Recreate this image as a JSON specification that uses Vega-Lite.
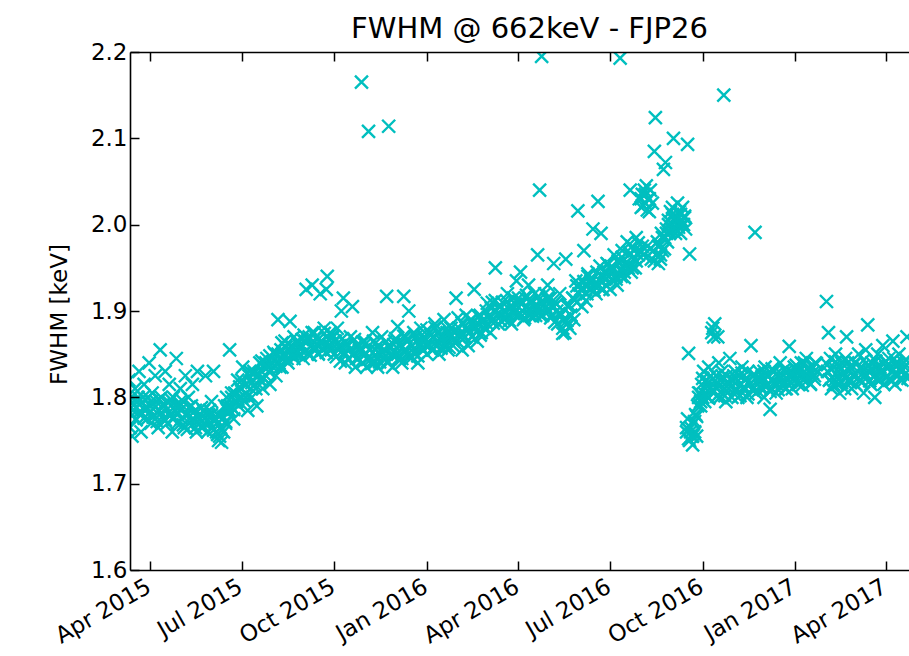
{
  "$schema": "https://vega.github.io/schema/vega-lite/v6.json",
  "width": 779,
  "height": 518,
  "autosize": {"type": "none"},
  "padding": {"left": 130, "top": 52, "right": 0, "bottom": 86},
  "background": "white",
  "config": {"view": {"stroke": null}, "font": "DejaVu Sans"},
  "title": {"text": "FWHM @ 662keV - FJP26", "fontSize": 29, "fontWeight": "normal", "color": "black", "anchor": "middle", "frame": "group", "baseline": "alphabetic", "offset": 12, "dx": 10, "dy": 38},
  "datasets": {
    "fwhm": [
{"t":"2015-03-11","v":1.79},{"t":"2015-03-11","v":1.82},{"t":"2015-03-12","v":1.765},{"t":"2015-03-13","v":1.80},{"t":"2015-03-14","v":1.755},{"t":"2015-03-15","v":1.785},{"t":"2015-03-17","v":1.81},{"t":"2015-03-18","v":1.775},{"t":"2015-03-19","v":1.795},{"t":"2015-03-21","v":1.83},{"t":"2015-03-22","v":1.78},{"t":"2015-03-23","v":1.76},{"t":"2015-03-25","v":1.80},{"t":"2015-03-26","v":1.815},{"t":"2015-03-27","v":1.785},{"t":"2015-03-29","v":1.775},{"t":"2015-03-30","v":1.80},{"t":"2015-03-31","v":1.84},
{"t":"2015-04-01","v":1.79},{"t":"2015-04-02","v":1.77},{"t":"2015-04-03","v":1.805},{"t":"2015-04-05","v":1.78},{"t":"2015-04-06","v":1.825},{"t":"2015-04-07","v":1.795},{"t":"2015-04-09","v":1.765},{"t":"2015-04-10","v":1.785},{"t":"2015-04-11","v":1.855},{"t":"2015-04-12","v":1.80},{"t":"2015-04-14","v":1.775},{"t":"2015-04-15","v":1.79},{"t":"2015-04-16","v":1.83},{"t":"2015-04-18","v":1.77},{"t":"2015-04-19","v":1.795},{"t":"2015-04-20","v":1.815},{"t":"2015-04-22","v":1.78},{"t":"2015-04-23","v":1.76},{"t":"2015-04-24","v":1.80},{"t":"2015-04-26","v":1.785},{"t":"2015-04-27","v":1.845},{"t":"2015-04-28","v":1.77},{"t":"2015-04-30","v":1.79},
{"t":"2015-05-01","v":1.81},{"t":"2015-05-02","v":1.775},{"t":"2015-05-04","v":1.795},{"t":"2015-05-05","v":1.765},{"t":"2015-05-06","v":1.825},{"t":"2015-05-08","v":1.78},{"t":"2015-05-09","v":1.80},{"t":"2015-05-10","v":1.77},{"t":"2015-05-12","v":1.79},{"t":"2015-05-13","v":1.815},{"t":"2015-05-14","v":1.775},{"t":"2015-05-16","v":1.785},{"t":"2015-05-17","v":1.76},{"t":"2015-05-18","v":1.83},{"t":"2015-05-20","v":1.775},{"t":"2015-05-21","v":1.78},{"t":"2015-05-22","v":1.765},{"t":"2015-05-24","v":1.785},{"t":"2015-05-25","v":1.77},{"t":"2015-05-26","v":1.825},{"t":"2015-05-28","v":1.76},{"t":"2015-05-29","v":1.78},{"t":"2015-05-30","v":1.77},
{"t":"2015-06-01","v":1.795},{"t":"2015-06-02","v":1.765},{"t":"2015-06-03","v":1.83},{"t":"2015-06-05","v":1.775},{"t":"2015-06-06","v":1.76},{"t":"2015-06-07","v":1.78},{"t":"2015-06-08","v":1.75},{"t":"2015-06-09","v":1.755},{"t":"2015-06-10","v":1.765},{"t":"2015-06-11","v":1.748},{"t":"2015-06-12","v":1.775},{"t":"2015-06-13","v":1.76},{"t":"2015-06-14","v":1.79},{"t":"2015-06-15","v":1.77},{"t":"2015-06-16","v":1.80},{"t":"2015-06-17","v":1.785},{"t":"2015-06-19","v":1.855},{"t":"2015-06-20","v":1.79},{"t":"2015-06-21","v":1.80},{"t":"2015-06-23","v":1.775},{"t":"2015-06-24","v":1.805},{"t":"2015-06-26","v":1.795},{"t":"2015-06-27","v":1.82},{"t":"2015-06-28","v":1.79},{"t":"2015-06-30","v":1.81},
{"t":"2015-07-01","v":1.80},{"t":"2015-07-02","v":1.835},{"t":"2015-07-04","v":1.795},{"t":"2015-07-05","v":1.815},{"t":"2015-07-07","v":1.785},{"t":"2015-07-08","v":1.825},{"t":"2015-07-10","v":1.81},{"t":"2015-07-11","v":1.80},{"t":"2015-07-13","v":1.83},{"t":"2015-07-14","v":1.815},{"t":"2015-07-16","v":1.79},{"t":"2015-07-17","v":1.825},{"t":"2015-07-19","v":1.84},{"t":"2015-07-20","v":1.82},{"t":"2015-07-22","v":1.81},{"t":"2015-07-23","v":1.835},{"t":"2015-07-25","v":1.825},{"t":"2015-07-26","v":1.845},{"t":"2015-07-28","v":1.83},{"t":"2015-07-29","v":1.815},{"t":"2015-07-31","v":1.84},
{"t":"2015-08-01","v":1.835},{"t":"2015-08-03","v":1.85},{"t":"2015-08-04","v":1.825},{"t":"2015-08-06","v":1.89},{"t":"2015-08-07","v":1.84},{"t":"2015-08-09","v":1.855},{"t":"2015-08-10","v":1.835},{"t":"2015-08-12","v":1.85},{"t":"2015-08-13","v":1.865},{"t":"2015-08-15","v":1.845},{"t":"2015-08-16","v":1.855},{"t":"2015-08-18","v":1.888},{"t":"2015-08-19","v":1.86},{"t":"2015-08-21","v":1.85},{"t":"2015-08-22","v":1.845},{"t":"2015-08-24","v":1.855},{"t":"2015-08-25","v":1.865},{"t":"2015-08-27","v":1.86},{"t":"2015-08-28","v":1.85},{"t":"2015-08-30","v":1.86},{"t":"2015-08-31","v":1.845},
{"t":"2015-09-02","v":1.865},{"t":"2015-09-03","v":1.925},{"t":"2015-09-05","v":1.85},{"t":"2015-09-06","v":1.87},{"t":"2015-09-08","v":1.86},{"t":"2015-09-09","v":1.93},{"t":"2015-09-11","v":1.875},{"t":"2015-09-12","v":1.855},{"t":"2015-09-14","v":1.86},{"t":"2015-09-15","v":1.85},{"t":"2015-09-17","v":1.92},{"t":"2015-09-18","v":1.865},{"t":"2015-09-20","v":1.855},{"t":"2015-09-21","v":1.88},{"t":"2015-09-23","v":1.925},{"t":"2015-09-24","v":1.94},{"t":"2015-09-25","v":1.86},{"t":"2015-09-27","v":1.875},{"t":"2015-09-28","v":1.855},{"t":"2015-09-30","v":1.87},
{"t":"2015-10-01","v":1.85},{"t":"2015-10-02","v":1.865},{"t":"2015-10-04","v":1.88},{"t":"2015-10-05","v":1.855},{"t":"2015-10-07","v":1.86},{"t":"2015-10-08","v":1.90},{"t":"2015-10-10","v":1.915},{"t":"2015-10-11","v":1.85},{"t":"2015-10-12","v":1.84},{"t":"2015-10-14","v":1.86},{"t":"2015-10-15","v":1.845},{"t":"2015-10-17","v":1.87},{"t":"2015-10-19","v":1.905},{"t":"2015-10-20","v":1.85},{"t":"2015-10-22","v":1.835},{"t":"2015-10-23","v":1.86},{"t":"2015-10-25","v":1.845},{"t":"2015-10-26","v":1.855},{"t":"2015-10-28","v":2.165},{"t":"2015-10-29","v":1.84},{"t":"2015-10-31","v":1.865},
{"t":"2015-11-01","v":1.85},{"t":"2015-11-02","v":1.835},{"t":"2015-11-04","v":2.108},{"t":"2015-11-05","v":1.855},{"t":"2015-11-07","v":1.845},{"t":"2015-11-08","v":1.875},{"t":"2015-11-10","v":1.84},{"t":"2015-11-11","v":1.855},{"t":"2015-11-13","v":1.835},{"t":"2015-11-14","v":1.86},{"t":"2015-11-16","v":1.85},{"t":"2015-11-17","v":1.87},{"t":"2015-11-19","v":1.845},{"t":"2015-11-20","v":1.855},{"t":"2015-11-22","v":1.917},{"t":"2015-11-23","v":1.84},{"t":"2015-11-24","v":2.114},{"t":"2015-11-25","v":1.86},{"t":"2015-11-27","v":1.85},{"t":"2015-11-28","v":1.835},{"t":"2015-11-30","v":1.865},
{"t":"2015-12-01","v":1.85},{"t":"2015-12-03","v":1.882},{"t":"2015-12-04","v":1.845},{"t":"2015-12-06","v":1.86},{"t":"2015-12-07","v":1.84},{"t":"2015-12-09","v":1.917},{"t":"2015-12-10","v":1.855},{"t":"2015-12-11","v":1.87},{"t":"2015-12-13","v":1.85},{"t":"2015-12-14","v":1.90},{"t":"2015-12-16","v":1.845},{"t":"2015-12-17","v":1.86},{"t":"2015-12-19","v":1.875},{"t":"2015-12-20","v":1.85},{"t":"2015-12-22","v":1.865},{"t":"2015-12-23","v":1.84},{"t":"2015-12-25","v":1.86},{"t":"2015-12-26","v":1.88},{"t":"2015-12-28","v":1.855},{"t":"2015-12-29","v":1.87},{"t":"2015-12-31","v":1.86},
{"t":"2016-01-01","v":1.85},{"t":"2016-01-03","v":1.86},{"t":"2016-01-04","v":1.875},{"t":"2016-01-06","v":1.855},{"t":"2016-01-07","v":1.87},{"t":"2016-01-09","v":1.885},{"t":"2016-01-10","v":1.86},{"t":"2016-01-12","v":1.875},{"t":"2016-01-13","v":1.85},{"t":"2016-01-15","v":1.87},{"t":"2016-01-16","v":1.865},{"t":"2016-01-18","v":1.89},{"t":"2016-01-19","v":1.86},{"t":"2016-01-21","v":1.875},{"t":"2016-01-22","v":1.855},{"t":"2016-01-24","v":1.87},{"t":"2016-01-25","v":1.88},{"t":"2016-01-27","v":1.86},{"t":"2016-01-28","v":1.875},{"t":"2016-01-30","v":1.915},{"t":"2016-01-31","v":1.865},
{"t":"2016-02-02","v":1.88},{"t":"2016-02-03","v":1.87},{"t":"2016-02-05","v":1.855},{"t":"2016-02-06","v":1.885},{"t":"2016-02-08","v":1.87},{"t":"2016-02-09","v":1.88},{"t":"2016-02-11","v":1.86},{"t":"2016-02-12","v":1.875},{"t":"2016-02-14","v":1.89},{"t":"2016-02-15","v":1.87},{"t":"2016-02-17","v":1.925},{"t":"2016-02-18","v":1.88},{"t":"2016-02-20","v":1.865},{"t":"2016-02-21","v":1.885},{"t":"2016-02-23","v":1.895},{"t":"2016-02-24","v":1.875},{"t":"2016-02-26","v":1.89},{"t":"2016-02-27","v":1.88},{"t":"2016-02-29","v":1.90},
{"t":"2016-03-01","v":1.885},{"t":"2016-03-03","v":1.895},{"t":"2016-03-04","v":1.875},{"t":"2016-03-06","v":1.91},{"t":"2016-03-07","v":1.89},{"t":"2016-03-09","v":1.95},{"t":"2016-03-10","v":1.90},{"t":"2016-03-12","v":1.885},{"t":"2016-03-13","v":1.905},{"t":"2016-03-15","v":1.895},{"t":"2016-03-16","v":1.91},{"t":"2016-03-18","v":1.89},{"t":"2016-03-19","v":1.90},{"t":"2016-03-21","v":1.92},{"t":"2016-03-22","v":1.895},{"t":"2016-03-24","v":1.905},{"t":"2016-03-25","v":1.885},{"t":"2016-03-27","v":1.915},{"t":"2016-03-28","v":1.90},{"t":"2016-03-30","v":1.935},{"t":"2016-03-31","v":1.895},
{"t":"2016-04-02","v":1.91},{"t":"2016-04-03","v":1.945},{"t":"2016-04-05","v":1.90},{"t":"2016-04-06","v":1.89},{"t":"2016-04-08","v":1.915},{"t":"2016-04-09","v":1.905},{"t":"2016-04-11","v":1.93},{"t":"2016-04-12","v":1.895},{"t":"2016-04-14","v":1.91},{"t":"2016-04-15","v":1.90},{"t":"2016-04-17","v":1.92},{"t":"2016-04-18","v":1.895},{"t":"2016-04-20","v":1.965},{"t":"2016-04-21","v":1.905},{"t":"2016-04-22","v":2.04},{"t":"2016-04-23","v":1.91},{"t":"2016-04-24","v":2.195},{"t":"2016-04-25","v":1.895},{"t":"2016-04-27","v":1.92},{"t":"2016-04-28","v":1.905},{"t":"2016-04-30","v":1.93},
{"t":"2016-05-01","v":1.90},{"t":"2016-05-03","v":1.915},{"t":"2016-05-04","v":1.895},{"t":"2016-05-06","v":1.955},{"t":"2016-05-07","v":1.91},{"t":"2016-05-09","v":1.90},{"t":"2016-05-10","v":1.885},{"t":"2016-05-12","v":1.92},{"t":"2016-05-13","v":1.895},{"t":"2016-05-15","v":1.88},{"t":"2016-05-16","v":1.89},{"t":"2016-05-17","v":1.875},{"t":"2016-05-18","v":1.96},{"t":"2016-05-19","v":1.885},{"t":"2016-05-20","v":1.905},{"t":"2016-05-22","v":1.88},{"t":"2016-05-23","v":1.895},{"t":"2016-05-25","v":1.915},{"t":"2016-05-26","v":1.89},{"t":"2016-05-28","v":1.935},{"t":"2016-05-29","v":1.91},{"t":"2016-05-30","v":2.016},{"t":"2016-05-31","v":1.92},
{"t":"2016-06-02","v":1.925},{"t":"2016-06-03","v":1.905},{"t":"2016-06-05","v":1.97},{"t":"2016-06-06","v":1.93},{"t":"2016-06-08","v":1.92},{"t":"2016-06-09","v":1.94},{"t":"2016-06-11","v":1.925},{"t":"2016-06-12","v":1.935},{"t":"2016-06-14","v":1.995},{"t":"2016-06-15","v":1.93},{"t":"2016-06-17","v":1.92},{"t":"2016-06-18","v":1.945},{"t":"2016-06-19","v":2.027},{"t":"2016-06-20","v":1.93},{"t":"2016-06-21","v":1.935},{"t":"2016-06-22","v":1.99},{"t":"2016-06-23","v":1.94},{"t":"2016-06-24","v":1.925},{"t":"2016-06-26","v":1.945},{"t":"2016-06-27","v":1.93},{"t":"2016-06-28","v":1.955},{"t":"2016-06-30","v":1.94},
{"t":"2016-07-01","v":1.925},{"t":"2016-07-03","v":1.95},{"t":"2016-07-04","v":1.935},{"t":"2016-07-05","v":1.965},{"t":"2016-07-07","v":1.94},{"t":"2016-07-08","v":1.93},{"t":"2016-07-10","v":1.955},{"t":"2016-07-11","v":2.193},{"t":"2016-07-12","v":1.94},{"t":"2016-07-13","v":1.97},{"t":"2016-07-15","v":1.945},{"t":"2016-07-16","v":1.955},{"t":"2016-07-18","v":1.98},{"t":"2016-07-19","v":1.95},{"t":"2016-07-20","v":1.965},{"t":"2016-07-21","v":2.04},{"t":"2016-07-22","v":1.945},{"t":"2016-07-23","v":1.975},{"t":"2016-07-25","v":1.96},{"t":"2016-07-26","v":1.95},{"t":"2016-07-27","v":1.985},{"t":"2016-07-29","v":1.965},{"t":"2016-07-30","v":2.03},{"t":"2016-07-31","v":1.97},
{"t":"2016-08-01","v":2.02},{"t":"2016-08-02","v":2.035},{"t":"2016-08-03","v":1.965},{"t":"2016-08-04","v":2.04},{"t":"2016-08-05","v":2.025},{"t":"2016-08-06","v":2.045},{"t":"2016-08-07","v":1.975},{"t":"2016-08-08","v":2.03},{"t":"2016-08-09","v":2.015},{"t":"2016-08-10","v":2.04},{"t":"2016-08-11","v":1.96},{"t":"2016-08-12","v":2.025},{"t":"2016-08-13","v":1.97},{"t":"2016-08-14","v":2.085},{"t":"2016-08-15","v":2.124},{"t":"2016-08-16","v":1.965},{"t":"2016-08-17","v":1.98},{"t":"2016-08-18","v":1.955},{"t":"2016-08-19","v":1.975},{"t":"2016-08-20","v":1.96},{"t":"2016-08-21","v":1.99},{"t":"2016-08-22","v":1.97},{"t":"2016-08-23","v":2.064},{"t":"2016-08-24","v":1.985},{"t":"2016-08-25","v":2.072},{"t":"2016-08-26","v":1.995},{"t":"2016-08-27","v":1.98},{"t":"2016-08-28","v":2.005},{"t":"2016-08-29","v":1.99},{"t":"2016-08-30","v":2.015},{"t":"2016-08-31","v":1.995},
{"t":"2016-09-01","v":2.02},{"t":"2016-09-02","v":2.10},{"t":"2016-09-03","v":2.005},{"t":"2016-09-04","v":1.99},{"t":"2016-09-05","v":2.01},{"t":"2016-09-06","v":2.025},{"t":"2016-09-07","v":2.0},{"t":"2016-09-08","v":2.015},{"t":"2016-09-09","v":1.99},{"t":"2016-09-10","v":2.005},{"t":"2016-09-11","v":2.02},{"t":"2016-09-12","v":2.0},{"t":"2016-09-13","v":2.01},{"t":"2016-09-14","v":1.995},{"t":"2016-09-16","v":2.093},{"t":"2016-09-18","v":1.966},
{"t":"2016-09-17","v":1.851},{"t":"2016-09-15","v":1.76},{"t":"2016-09-16","v":1.775},{"t":"2016-09-18","v":1.75},{"t":"2016-09-19","v":1.765},{"t":"2016-09-20","v":1.755},{"t":"2016-09-21","v":1.745},{"t":"2016-09-22","v":1.77},{"t":"2016-09-23","v":1.76},{"t":"2016-09-24","v":1.78},{"t":"2016-09-25","v":1.755},{"t":"2016-09-26","v":1.79},{"t":"2016-09-27","v":1.80},{"t":"2016-09-28","v":1.805},{"t":"2016-09-29","v":1.79},{"t":"2016-09-30","v":1.815},
{"t":"2016-10-01","v":1.80},{"t":"2016-10-02","v":1.83},{"t":"2016-10-03","v":1.795},{"t":"2016-10-04","v":1.81},{"t":"2016-10-05","v":1.82},{"t":"2016-10-06","v":1.80},{"t":"2016-10-07","v":1.835},{"t":"2016-10-08","v":1.81},{"t":"2016-10-10","v":1.875},{"t":"2016-10-11","v":1.88},{"t":"2016-10-12","v":1.87},{"t":"2016-10-13","v":1.885},{"t":"2016-10-14","v":1.825},{"t":"2016-10-15","v":1.81},{"t":"2016-10-16","v":1.87},{"t":"2016-10-17","v":1.84},{"t":"2016-10-18","v":1.80},{"t":"2016-10-19","v":1.82},{"t":"2016-10-20","v":1.83},{"t":"2016-10-22","v":2.15},{"t":"2016-10-23","v":1.81},{"t":"2016-10-24","v":1.795},{"t":"2016-10-25","v":1.825},{"t":"2016-10-27","v":1.815},{"t":"2016-10-28","v":1.845},{"t":"2016-10-30","v":1.80},{"t":"2016-10-31","v":1.82},
{"t":"2016-11-02","v":1.83},{"t":"2016-11-03","v":1.81},{"t":"2016-11-05","v":1.80},{"t":"2016-11-06","v":1.825},{"t":"2016-11-08","v":1.815},{"t":"2016-11-09","v":1.835},{"t":"2016-11-11","v":1.81},{"t":"2016-11-12","v":1.82},{"t":"2016-11-14","v":1.80},{"t":"2016-11-15","v":1.83},{"t":"2016-11-17","v":1.815},{"t":"2016-11-18","v":1.86},{"t":"2016-11-20","v":1.81},{"t":"2016-11-21","v":1.825},{"t":"2016-11-22","v":1.991},{"t":"2016-11-23","v":1.805},{"t":"2016-11-25","v":1.82},{"t":"2016-11-26","v":1.83},{"t":"2016-11-28","v":1.81},{"t":"2016-11-29","v":1.82},
{"t":"2016-12-01","v":1.80},{"t":"2016-12-02","v":1.835},{"t":"2016-12-04","v":1.815},{"t":"2016-12-05","v":1.825},{"t":"2016-12-07","v":1.786},{"t":"2016-12-08","v":1.81},{"t":"2016-12-10","v":1.82},{"t":"2016-12-11","v":1.83},{"t":"2016-12-13","v":1.805},{"t":"2016-12-14","v":1.815},{"t":"2016-12-16","v":1.825},{"t":"2016-12-17","v":1.84},{"t":"2016-12-19","v":1.815},{"t":"2016-12-20","v":1.825},{"t":"2016-12-22","v":1.81},{"t":"2016-12-23","v":1.83},{"t":"2016-12-25","v":1.82},{"t":"2016-12-26","v":1.859},{"t":"2016-12-28","v":1.825},{"t":"2016-12-29","v":1.81},{"t":"2016-12-31","v":1.835},
{"t":"2017-01-01","v":1.82},{"t":"2017-01-03","v":1.83},{"t":"2017-01-04","v":1.815},{"t":"2017-01-06","v":1.825},{"t":"2017-01-07","v":1.84},{"t":"2017-01-09","v":1.82},{"t":"2017-01-10","v":1.83},{"t":"2017-01-12","v":1.845},{"t":"2017-01-13","v":1.825},{"t":"2017-01-15","v":1.83},{"t":"2017-01-16","v":1.815},{"t":"2017-01-18","v":1.835},{"t":"2017-01-20","v":1.825},{"t":"2017-01-21","v":1.84},{"t":"2017-01-23","v":1.83},
{"t":"2017-02-01","v":1.911},{"t":"2017-02-02","v":1.83},{"t":"2017-02-03","v":1.875},{"t":"2017-02-04","v":1.82},{"t":"2017-02-05","v":1.845},{"t":"2017-02-06","v":1.81},{"t":"2017-02-08","v":1.835},{"t":"2017-02-09","v":1.82},{"t":"2017-02-10","v":1.85},{"t":"2017-02-12","v":1.815},{"t":"2017-02-13","v":1.83},{"t":"2017-02-14","v":1.805},{"t":"2017-02-16","v":1.84},{"t":"2017-02-17","v":1.825},{"t":"2017-02-19","v":1.81},{"t":"2017-02-20","v":1.845},{"t":"2017-02-21","v":1.87},{"t":"2017-02-23","v":1.82},{"t":"2017-02-24","v":1.835},{"t":"2017-02-26","v":1.81},{"t":"2017-02-27","v":1.825},
{"t":"2017-03-01","v":1.84},{"t":"2017-03-02","v":1.815},{"t":"2017-03-04","v":1.83},{"t":"2017-03-05","v":1.85},{"t":"2017-03-07","v":1.82},{"t":"2017-03-08","v":1.835},{"t":"2017-03-10","v":1.805},{"t":"2017-03-11","v":1.825},{"t":"2017-03-12","v":1.855},{"t":"2017-03-14","v":1.884},{"t":"2017-03-15","v":1.83},{"t":"2017-03-17","v":1.815},{"t":"2017-03-18","v":1.84},{"t":"2017-03-20","v":1.825},{"t":"2017-03-21","v":1.80},{"t":"2017-03-23","v":1.835},{"t":"2017-03-24","v":1.85},{"t":"2017-03-26","v":1.82},{"t":"2017-03-27","v":1.83},{"t":"2017-03-29","v":1.86},{"t":"2017-03-30","v":1.815},
{"t":"2017-04-01","v":1.835},{"t":"2017-04-02","v":1.825},{"t":"2017-04-04","v":1.845},{"t":"2017-04-05","v":1.82},{"t":"2017-04-07","v":1.83},{"t":"2017-04-08","v":1.865},{"t":"2017-04-10","v":1.815},{"t":"2017-04-11","v":1.84},{"t":"2017-04-13","v":1.825},{"t":"2017-04-14","v":1.85},{"t":"2017-04-16","v":1.83},{"t":"2017-04-17","v":1.82},{"t":"2017-04-19","v":1.84},{"t":"2017-04-20","v":1.835},{"t":"2017-04-22","v":1.87},{"t":"2017-04-23","v":1.825},
{"t":"2015-03-12","v":1.797},{"t":"2015-03-14","v":1.779},{"t":"2015-03-16","v":1.791},{"t":"2015-03-18","v":1.774},{"t":"2015-03-20","v":1.80},{"t":"2015-03-22","v":1.784},{"t":"2015-03-24","v":1.794},{"t":"2015-03-26","v":1.776},{"t":"2015-03-28","v":1.788},{"t":"2015-03-30","v":1.781},
{"t":"2015-04-02","v":1.795},{"t":"2015-04-04","v":1.777},{"t":"2015-04-06","v":1.789},{"t":"2015-04-08","v":1.772},{"t":"2015-04-10","v":1.798},{"t":"2015-04-12","v":1.782},{"t":"2015-04-14","v":1.792},{"t":"2015-04-16","v":1.774},{"t":"2015-04-18","v":1.786},{"t":"2015-04-20","v":1.779},{"t":"2015-04-22","v":1.797},{"t":"2015-04-24","v":1.775},{"t":"2015-04-26","v":1.79},{"t":"2015-04-28","v":1.783},{"t":"2015-04-30","v":1.794},
{"t":"2015-05-02","v":1.786},{"t":"2015-05-04","v":1.768},{"t":"2015-05-06","v":1.78},{"t":"2015-05-08","v":1.763},{"t":"2015-05-10","v":1.789},{"t":"2015-05-12","v":1.773},{"t":"2015-05-14","v":1.783},{"t":"2015-05-16","v":1.765},{"t":"2015-05-18","v":1.777},{"t":"2015-05-20","v":1.77},{"t":"2015-05-22","v":1.788},{"t":"2015-05-24","v":1.766},{"t":"2015-05-26","v":1.781},{"t":"2015-05-28","v":1.774},{"t":"2015-05-30","v":1.785},
{"t":"2015-06-01","v":1.78},{"t":"2015-06-03","v":1.762},{"t":"2015-06-05","v":1.774},{"t":"2015-06-07","v":1.757},{"t":"2015-06-09","v":1.778},{"t":"2015-06-11","v":1.762},{"t":"2015-06-13","v":1.777},{"t":"2015-06-15","v":1.772},{"t":"2015-06-17","v":1.79},{"t":"2015-06-19","v":1.785},{"t":"2015-06-21","v":1.805},{"t":"2015-06-23","v":1.786},{"t":"2015-06-25","v":1.804},{"t":"2015-06-27","v":1.798},{"t":"2015-06-29","v":1.812},
{"t":"2015-07-01","v":1.82},{"t":"2015-07-03","v":1.802},{"t":"2015-07-05","v":1.814},{"t":"2015-07-07","v":1.802},{"t":"2015-07-09","v":1.83},{"t":"2015-07-11","v":1.817},{"t":"2015-07-13","v":1.827},{"t":"2015-07-15","v":1.81},{"t":"2015-07-17","v":1.826},{"t":"2015-07-19","v":1.82},{"t":"2015-07-21","v":1.842},{"t":"2015-07-23","v":1.822},{"t":"2015-07-25","v":1.84},{"t":"2015-07-27","v":1.835},{"t":"2015-07-29","v":1.848},
{"t":"2015-08-02","v":1.852},{"t":"2015-08-04","v":1.836},{"t":"2015-08-06","v":1.85},{"t":"2015-08-08","v":1.835},{"t":"2015-08-10","v":1.863},{"t":"2015-08-12","v":1.847},{"t":"2015-08-14","v":1.858},{"t":"2015-08-16","v":1.84},{"t":"2015-08-18","v":1.853},{"t":"2015-08-20","v":1.848},{"t":"2015-08-22","v":1.87},{"t":"2015-08-24","v":1.85},{"t":"2015-08-26","v":1.863},{"t":"2015-08-28","v":1.856},{"t":"2015-08-30","v":1.867},
{"t":"2015-09-01","v":1.872},{"t":"2015-09-03","v":1.854},{"t":"2015-09-05","v":1.866},{"t":"2015-09-07","v":1.849},{"t":"2015-09-09","v":1.875},{"t":"2015-09-11","v":1.859},{"t":"2015-09-13","v":1.869},{"t":"2015-09-15","v":1.851},{"t":"2015-09-17","v":1.863},{"t":"2015-09-19","v":1.856},{"t":"2015-09-21","v":1.874},{"t":"2015-09-23","v":1.852},{"t":"2015-09-25","v":1.867},{"t":"2015-09-27","v":1.86},{"t":"2015-09-29","v":1.871},
{"t":"2015-10-01","v":1.865},{"t":"2015-10-03","v":1.847},{"t":"2015-10-05","v":1.859},{"t":"2015-10-07","v":1.842},{"t":"2015-10-09","v":1.868},{"t":"2015-10-11","v":1.852},{"t":"2015-10-13","v":1.862},{"t":"2015-10-15","v":1.844},{"t":"2015-10-17","v":1.856},{"t":"2015-10-19","v":1.849},{"t":"2015-10-21","v":1.867},{"t":"2015-10-23","v":1.845},{"t":"2015-10-25","v":1.86},{"t":"2015-10-27","v":1.853},{"t":"2015-10-29","v":1.864},
{"t":"2015-11-01","v":1.862},{"t":"2015-11-03","v":1.844},{"t":"2015-11-05","v":1.856},{"t":"2015-11-07","v":1.839},{"t":"2015-11-09","v":1.865},{"t":"2015-11-11","v":1.849},{"t":"2015-11-13","v":1.859},{"t":"2015-11-15","v":1.841},{"t":"2015-11-17","v":1.853},{"t":"2015-11-19","v":1.846},{"t":"2015-11-21","v":1.864},{"t":"2015-11-23","v":1.842},{"t":"2015-11-25","v":1.857},{"t":"2015-11-27","v":1.85},{"t":"2015-11-29","v":1.861},
{"t":"2015-12-01","v":1.868},{"t":"2015-12-03","v":1.85},{"t":"2015-12-05","v":1.862},{"t":"2015-12-07","v":1.845},{"t":"2015-12-09","v":1.871},{"t":"2015-12-11","v":1.855},{"t":"2015-12-13","v":1.865},{"t":"2015-12-15","v":1.847},{"t":"2015-12-17","v":1.859},{"t":"2015-12-19","v":1.852},{"t":"2015-12-21","v":1.87},{"t":"2015-12-23","v":1.848},{"t":"2015-12-25","v":1.863},{"t":"2015-12-27","v":1.856},{"t":"2015-12-29","v":1.867},
{"t":"2016-01-01","v":1.878},{"t":"2016-01-03","v":1.86},{"t":"2016-01-05","v":1.872},{"t":"2016-01-07","v":1.855},{"t":"2016-01-09","v":1.881},{"t":"2016-01-11","v":1.865},{"t":"2016-01-13","v":1.875},{"t":"2016-01-15","v":1.857},{"t":"2016-01-17","v":1.869},{"t":"2016-01-19","v":1.862},{"t":"2016-01-21","v":1.88},{"t":"2016-01-23","v":1.858},{"t":"2016-01-25","v":1.873},{"t":"2016-01-27","v":1.866},{"t":"2016-01-29","v":1.877},
{"t":"2016-02-01","v":1.892},{"t":"2016-02-03","v":1.874},{"t":"2016-02-05","v":1.886},{"t":"2016-02-07","v":1.869},{"t":"2016-02-09","v":1.895},{"t":"2016-02-11","v":1.879},{"t":"2016-02-13","v":1.889},{"t":"2016-02-15","v":1.871},{"t":"2016-02-17","v":1.883},{"t":"2016-02-19","v":1.876},{"t":"2016-02-21","v":1.894},{"t":"2016-02-23","v":1.872},{"t":"2016-02-25","v":1.887},{"t":"2016-02-27","v":1.88},
{"t":"2016-03-01","v":1.909},{"t":"2016-03-03","v":1.891},{"t":"2016-03-05","v":1.903},{"t":"2016-03-07","v":1.886},{"t":"2016-03-09","v":1.912},{"t":"2016-03-11","v":1.896},{"t":"2016-03-13","v":1.906},{"t":"2016-03-15","v":1.888},{"t":"2016-03-17","v":1.90},{"t":"2016-03-19","v":1.893},{"t":"2016-03-21","v":1.911},{"t":"2016-03-23","v":1.889},{"t":"2016-03-25","v":1.904},{"t":"2016-03-27","v":1.897},{"t":"2016-03-29","v":1.908},
{"t":"2016-04-01","v":1.915},{"t":"2016-04-03","v":1.897},{"t":"2016-04-05","v":1.909},{"t":"2016-04-07","v":1.892},{"t":"2016-04-09","v":1.918},{"t":"2016-04-11","v":1.902},{"t":"2016-04-13","v":1.912},{"t":"2016-04-15","v":1.894},{"t":"2016-04-17","v":1.906},{"t":"2016-04-19","v":1.899},{"t":"2016-04-21","v":1.917},{"t":"2016-04-23","v":1.895},{"t":"2016-04-25","v":1.91},{"t":"2016-04-27","v":1.903},{"t":"2016-04-29","v":1.914},
{"t":"2016-05-01","v":1.915},{"t":"2016-05-03","v":1.892},{"t":"2016-05-05","v":1.904},{"t":"2016-05-07","v":1.887},{"t":"2016-05-09","v":1.908},{"t":"2016-05-11","v":1.897},{"t":"2016-05-13","v":1.897},{"t":"2016-05-15","v":1.874},{"t":"2016-05-17","v":1.891},{"t":"2016-05-19","v":1.889},{"t":"2016-05-21","v":1.907},{"t":"2016-05-23","v":1.895},{"t":"2016-05-25","v":1.915},{"t":"2016-05-27","v":1.913},{"t":"2016-05-29","v":1.929},
{"t":"2016-06-01","v":1.93},{"t":"2016-06-03","v":1.917},{"t":"2016-06-05","v":1.934},{"t":"2016-06-07","v":1.912},{"t":"2016-06-09","v":1.943},{"t":"2016-06-11","v":1.932},{"t":"2016-06-13","v":1.937},{"t":"2016-06-15","v":1.924},{"t":"2016-06-17","v":1.931},{"t":"2016-06-19","v":1.929},{"t":"2016-06-21","v":1.952},{"t":"2016-06-23","v":1.925},{"t":"2016-06-25","v":1.945},{"t":"2016-06-27","v":1.938},{"t":"2016-06-29","v":1.954},
{"t":"2016-07-01","v":1.95},{"t":"2016-07-03","v":1.937},{"t":"2016-07-05","v":1.949},{"t":"2016-07-07","v":1.937},{"t":"2016-07-09","v":1.958},{"t":"2016-07-11","v":1.947},{"t":"2016-07-13","v":1.962},{"t":"2016-07-15","v":1.939},{"t":"2016-07-17","v":1.956},{"t":"2016-07-19","v":1.954},{"t":"2016-07-21","v":1.967},{"t":"2016-07-23","v":1.95},{"t":"2016-07-25","v":1.97},{"t":"2016-07-27","v":1.958},{"t":"2016-07-29","v":1.979},
{"t":"2016-08-01","v":2.03},{"t":"2016-08-03","v":2.022},{"t":"2016-08-05","v":2.035},{"t":"2016-08-07","v":2.017},{"t":"2016-08-09","v":2.03},{"t":"2016-08-02","v":1.975},{"t":"2016-08-06","v":1.962},{"t":"2016-08-10","v":1.972},{"t":"2016-08-14","v":1.958},{"t":"2016-08-18","v":1.975},{"t":"2016-08-20","v":1.965},{"t":"2016-08-22","v":1.985},{"t":"2016-08-24","v":1.972},{"t":"2016-08-26","v":1.99},{"t":"2016-08-28","v":2.0},{"t":"2016-08-30","v":1.992},
{"t":"2016-09-01","v":2.012},{"t":"2016-09-03","v":1.995},{"t":"2016-09-05","v":2.005},{"t":"2016-09-07","v":1.997},{"t":"2016-09-09","v":2.012},{"t":"2016-09-11","v":2.0},{"t":"2016-09-13","v":2.008},{"t":"2016-09-15","v":1.765},{"t":"2016-09-17","v":1.752},{"t":"2016-09-19","v":1.76},{"t":"2016-09-21","v":1.755},{"t":"2016-09-23","v":1.772},{"t":"2016-09-25","v":1.778},{"t":"2016-09-27","v":1.805},{"t":"2016-09-29","v":1.795},
{"t":"2016-10-01","v":1.822},{"t":"2016-10-03","v":1.804},{"t":"2016-10-05","v":1.816},{"t":"2016-10-07","v":1.799},{"t":"2016-10-09","v":1.825},{"t":"2016-10-11","v":1.809},{"t":"2016-10-13","v":1.819},{"t":"2016-10-15","v":1.801},{"t":"2016-10-17","v":1.813},{"t":"2016-10-19","v":1.806},{"t":"2016-10-21","v":1.824},{"t":"2016-10-23","v":1.802},{"t":"2016-10-25","v":1.817},{"t":"2016-10-27","v":1.81},{"t":"2016-10-29","v":1.821},
{"t":"2016-11-01","v":1.825},{"t":"2016-11-03","v":1.807},{"t":"2016-11-05","v":1.819},{"t":"2016-11-07","v":1.802},{"t":"2016-11-09","v":1.828},{"t":"2016-11-11","v":1.812},{"t":"2016-11-13","v":1.822},{"t":"2016-11-15","v":1.804},{"t":"2016-11-17","v":1.816},{"t":"2016-11-19","v":1.809},{"t":"2016-11-21","v":1.827},{"t":"2016-11-23","v":1.805},{"t":"2016-11-25","v":1.82},{"t":"2016-11-27","v":1.813},{"t":"2016-11-29","v":1.824},
{"t":"2016-12-01","v":1.83},{"t":"2016-12-03","v":1.812},{"t":"2016-12-05","v":1.824},{"t":"2016-12-07","v":1.807},{"t":"2016-12-09","v":1.833},{"t":"2016-12-11","v":1.817},{"t":"2016-12-13","v":1.827},{"t":"2016-12-15","v":1.809},{"t":"2016-12-17","v":1.821},{"t":"2016-12-19","v":1.814},{"t":"2016-12-21","v":1.832},{"t":"2016-12-23","v":1.81},{"t":"2016-12-25","v":1.825},{"t":"2016-12-27","v":1.818},{"t":"2016-12-29","v":1.829},
{"t":"2017-01-02","v":1.837},{"t":"2017-01-04","v":1.819},{"t":"2017-01-06","v":1.831},{"t":"2017-01-08","v":1.814},{"t":"2017-01-10","v":1.84},{"t":"2017-01-12","v":1.824},{"t":"2017-01-14","v":1.834},{"t":"2017-01-16","v":1.816},{"t":"2017-01-18","v":1.828},{"t":"2017-01-20","v":1.821},{"t":"2017-01-22","v":1.839},
{"t":"2017-02-02","v":1.838},{"t":"2017-02-04","v":1.82},{"t":"2017-02-06","v":1.832},{"t":"2017-02-08","v":1.815},{"t":"2017-02-10","v":1.841},{"t":"2017-02-12","v":1.825},{"t":"2017-02-14","v":1.835},{"t":"2017-02-16","v":1.817},{"t":"2017-02-18","v":1.829},{"t":"2017-02-20","v":1.822},{"t":"2017-02-22","v":1.84},{"t":"2017-02-24","v":1.818},{"t":"2017-02-26","v":1.833},{"t":"2017-02-28","v":1.826},
{"t":"2017-03-02","v":1.84},{"t":"2017-03-04","v":1.822},{"t":"2017-03-06","v":1.834},{"t":"2017-03-08","v":1.817},{"t":"2017-03-10","v":1.843},{"t":"2017-03-12","v":1.827},{"t":"2017-03-14","v":1.837},{"t":"2017-03-16","v":1.819},{"t":"2017-03-18","v":1.831},{"t":"2017-03-20","v":1.824},{"t":"2017-03-22","v":1.842},{"t":"2017-03-24","v":1.82},{"t":"2017-03-26","v":1.835},{"t":"2017-03-28","v":1.828},{"t":"2017-03-30","v":1.839},
{"t":"2017-04-01","v":1.842},{"t":"2017-04-03","v":1.824},{"t":"2017-04-05","v":1.836},{"t":"2017-04-07","v":1.819},{"t":"2017-04-09","v":1.845},{"t":"2017-04-11","v":1.829},{"t":"2017-04-13","v":1.839},{"t":"2017-04-15","v":1.821},{"t":"2017-04-17","v":1.833},{"t":"2017-04-19","v":1.826},{"t":"2017-04-21","v":1.844},{"t":"2017-04-23","v":1.822}
    ],
    "tickrow": [{"t": "2015-04-01"}]
  },
  "resolve": {"axis": {"x": "independent"}},
  "layer": [
    {
      "data": {"name": "fwhm"},
      "mark": {"type": "point", "shape": "M-1,-1L1,1M-1,1L1,-1", "filled": false, "color": "#00BFBF", "strokeWidth": 2.4, "opacity": 1, "size": 169, "clip": true},
      "encoding": {
        "x": {
          "field": "t", "type": "temporal",
          "scale": {"type": "utc", "domain": [{"year": 2015, "month": 3, "date": 12, "utc": true}, {"year": 2017, "month": 4, "date": 24, "utc": true}]},
          "axis": {
            "orient": "bottom", "title": null, "grid": false,
            "values": [{"year": 2015, "month": 4, "date": 1, "utc": true}, {"year": 2015, "month": 7, "date": 1, "utc": true}, {"year": 2015, "month": 10, "date": 1, "utc": true}, {"year": 2016, "month": 1, "date": 1, "utc": true}, {"year": 2016, "month": 4, "date": 1, "utc": true}, {"year": 2016, "month": 7, "date": 1, "utc": true}, {"year": 2016, "month": 10, "date": 1, "utc": true}, {"year": 2017, "month": 1, "date": 1, "utc": true}, {"year": 2017, "month": 4, "date": 1, "utc": true}],
            "format": "%b %Y", "labelAngle": -30, "labelAlign": "right", "labelBaseline": "top",
            "labelFontSize": 23, "labelColor": "black", "labelPadding": 14, "labelOffset": -7, "labelFlush": false, "labelOverlap": false, "labelBound": false,
            "tickSize": -9, "tickColor": "black", "tickWidth": 1.5, "domainColor": "black", "domainWidth": 1.6, "zindex": 1
          }
        },
        "y": {
          "field": "v", "type": "quantitative",
          "scale": {"domain": [1.6, 2.2], "nice": false, "zero": false},
          "axis": {
            "values": [1.6, 1.7, 1.8, 1.9, 2.0, 2.1, 2.2], "format": ".1f", "grid": false,
            "labelFontSize": 23, "labelColor": "black", "labelPadding": 12, "labelFlush": false, "labelOverlap": false, "labelBound": false,
            "tickSize": -9, "tickColor": "black", "tickWidth": 1.5, "domainColor": "black", "domainWidth": 1.6, "zindex": 1,
            "title": "FWHM [keV]", "titleFontSize": 23, "titleFontWeight": "normal", "titleColor": "black",
            "titleAngle": -90, "titleAlign": "center", "titleBaseline": "middle", "titleX": -71, "titleY": 262
          }
        }
      }
    },
    {
      "data": {"name": "tickrow"},
      "mark": {"type": "point", "opacity": 0},
      "encoding": {
        "x": {
          "field": "t", "type": "temporal",
          "axis": {
            "orient": "top", "title": null, "grid": false, "labels": false,
            "values": [{"year": 2015, "month": 4, "date": 1, "utc": true}, {"year": 2015, "month": 7, "date": 1, "utc": true}, {"year": 2015, "month": 10, "date": 1, "utc": true}, {"year": 2016, "month": 1, "date": 1, "utc": true}, {"year": 2016, "month": 4, "date": 1, "utc": true}, {"year": 2016, "month": 7, "date": 1, "utc": true}, {"year": 2016, "month": 10, "date": 1, "utc": true}, {"year": 2017, "month": 1, "date": 1, "utc": true}, {"year": 2017, "month": 4, "date": 1, "utc": true}],
            "tickSize": -9, "tickColor": "black", "tickWidth": 1.5, "domainColor": "black", "domainWidth": 1.6, "zindex": 1
          }
        }
      }
    }
  ]
}
